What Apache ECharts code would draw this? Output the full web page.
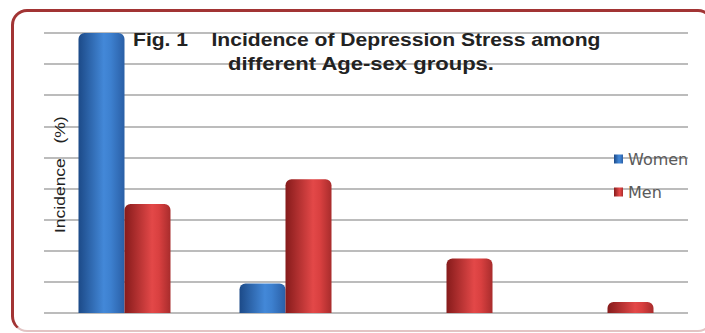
<!DOCTYPE html>
<html>
<head>
<meta charset="utf-8">
<script src="https://cdn.jsdelivr.net/npm/echarts@6/dist/echarts.min.js"></script>
<style>
html,body{margin:0;padding:0;background:#fff;overflow:hidden;}
#frame{position:absolute;left:11px;top:9px;width:697px;height:318px;border:3px solid #a23434;border-bottom:2px solid #e2c4c4;border-radius:16px;box-sizing:content-box;}
#chart{position:absolute;left:0;top:0;width:705px;height:333px;}
</style>
</head>
<body>
<div id="frame"></div>
<div id="chart"></div>
<script>
// Data (axis units: one gridline step = 1)
const categories = ['Group 1', 'Group 2', 'Group 3', 'Group 4'];
const women = [9.0, 0.95, 0, 0];
const men = [3.5, 4.3, 1.75, 0.35];
const seriesNames = ['Women', 'Men'];
const titleLine1 = 'Fig. 1    Incidence of Depression Stress among';
const titleLine2 = 'different Age-sex groups.';
const yAxisTitle = 'Incidence   (%)';

function grad(stops) {
  return new echarts.graphic.LinearGradient(0, 0, 1, 0, stops.map((c, i) => ({offset: c[0], color: c[1]})));
}
const blueFill = grad([[0, '#1c4a88'], [0.55, '#4388d8'], [0.7, '#3d80cf'], [1, '#2a5fa6']]);
const redFill = grad([[0, '#861b1b'], [0.6, '#e34848'], [0.75, '#d94040'], [1, '#a82c2c']]);

const chart = echarts.init(document.getElementById('chart'), null, {renderer: 'svg'});
chart.setOption({
  animation: false,
  grid: {left: 44, right: 17, top: 33, bottom: 20},
  xAxis: {
    type: 'category', data: categories,
    axisLine: {show: false}, axisTick: {show: false}, axisLabel: {show: false}
  },
  yAxis: {
    type: 'value', min: 0, max: 9, interval: 1,
    axisLine: {show: false}, axisTick: {show: false}, axisLabel: {show: false},
    splitLine: {lineStyle: {color: '#bcbcbc', width: 2}}
  },
  legend: {
    orient: 'vertical', left: 609, top: 146, itemWidth: 9, itemHeight: 9, itemGap: 17,
    icon: 'rect',
    textStyle: {fontFamily: 'DejaVu Sans', fontSize: 16, color: '#5a5a5a', padding: [0, 0, 0, 0]},
    data: seriesNames
  },
  graphic: [
    {type: 'text', x: 133, y: 30, scaleX: 1.11, z: 10,
     style: {text: titleLine1, font: 'bold 19px "Liberation Sans"', fill: '#222'}},
    {type: 'text', x: 228, y: 54, scaleX: 1.16, z: 10,
     style: {text: titleLine2, font: 'bold 19px "Liberation Sans"', fill: '#222'}},
    {type: 'text', x: 53, y: 233, rotation: Math.PI / 2, scaleX: 1.25, z: 10,
     style: {text: yAxisTitle, font: '14px "Liberation Sans"', fill: '#222', textVerticalAlign: 'top'}}
  ],
  series: [
    {name: seriesNames[0], type: 'bar', data: women, barWidth: 46, barGap: '0%',
     itemStyle: {color: blueFill, borderRadius: [6, 6, 0, 0]}},
    {name: seriesNames[1], type: 'bar', data: men, barWidth: 46, barGap: '0%',
     itemStyle: {color: redFill, borderRadius: [6, 6, 0, 0]}}
  ]
});
</script>
</body>
</html>
